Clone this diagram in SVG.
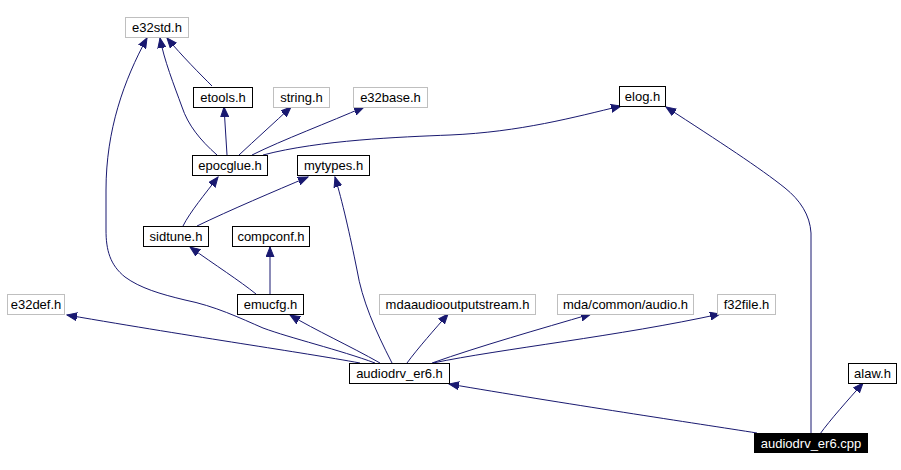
<svg xmlns="http://www.w3.org/2000/svg" width="901" height="470" viewBox="0 0 901 470">
<style>
.n rect{fill:#fff;stroke:#000;stroke-width:1}
.n.g rect{stroke:#bfbfbf}
.n text{font-family:"Liberation Sans",Arial,sans-serif;font-size:13px;fill:#000;text-anchor:middle}
.n.d rect{fill:#000;stroke:#000}
.n.d text{fill:#fff}
.e path{fill:none;stroke:#191970;stroke-width:1}
</style>
<defs>
<marker id="a" markerUnits="userSpaceOnUse" markerWidth="11" markerHeight="9" refX="10" refY="4.5" orient="auto">
<polygon points="0,0.5 10,4.5 0,8.5" fill="#191970" stroke="#191970" stroke-width="1"/>
</marker>
</defs>
<rect width="901" height="470" fill="#fff"/>
<g id="edges" class="e">
<path marker-end="url(#a)" d="M212,86 C200,74 182,56 167,38"/>
<path marker-end="url(#a)" d="M217,155 C200,140 188,125 182,107 C174,85 164,60 160,38"/>
<path marker-end="url(#a)" d="M375,363 C340,350 290,338 263,328 C240,318 215,306 185,300 C160,294 140,288 125,277 C110,265 106,250 106,230 L106,190 C106,130 124,80 147,38"/>
<path marker-end="url(#a)" d="M227,155 L224,107"/>
<path marker-end="url(#a)" d="M239,155 C255,140 275,122 291,107"/>
<path marker-end="url(#a)" d="M252,155 C282,140 330,122 364,107"/>
<path marker-end="url(#a)" d="M263,155 C320,140 400,137 450,135 C520,132 575,117 621,106"/>
<path marker-end="url(#a)" d="M183,226 C190,212 205,194 218,177"/>
<path marker-end="url(#a)" d="M197,226 C230,210 275,191 308,177"/>
<path marker-end="url(#a)" d="M392,363 C375,330 362,300 357,270 C350,235 342,200 335,177"/>
<path marker-end="url(#a)" d="M256,294 C240,281 215,265 190,247"/>
<path marker-end="url(#a)" d="M270,294 L270,247"/>
<path marker-end="url(#a)" d="M360,363 C300,352 200,338 67,315"/>
<path marker-end="url(#a)" d="M380,363 C350,346 315,330 290,315"/>
<path marker-end="url(#a)" d="M407,363 C418,348 435,329 448,314"/>
<path marker-end="url(#a)" d="M432,363 C480,346 540,329 591,314"/>
<path marker-end="url(#a)" d="M433,363 C500,349 620,336 720,314"/>
<path marker-end="url(#a)" d="M757,433 C700,424 560,403 449,384"/>
<path marker-end="url(#a)" d="M811,434 L811,233 C810,215 800,200 785,188 C760,168 720,142 666,107"/>
<path marker-end="url(#a)" d="M820,434 C830,420 848,400 863,383"/>
</g>
<g id="n_e32std" class="n g"><rect x="125.5" y="17.5" width="63" height="20"/><text x="157" y="32">e32std.h</text></g>
<g id="n_etools" class="n"><rect x="193.5" y="87.5" width="59" height="20"/><text x="223" y="102">etools.h</text></g>
<g id="n_string" class="n g"><rect x="273.5" y="87.5" width="56" height="20"/><text x="301.5" y="102">string.h</text></g>
<g id="n_e32base" class="n g"><rect x="353.5" y="87.5" width="74" height="20"/><text x="390.5" y="102">e32base.h</text></g>
<g id="n_elog" class="n"><rect x="619.5" y="86.5" width="46" height="20"/><text x="642.5" y="101">elog.h</text></g>
<g id="n_epocglue" class="n"><rect x="192.5" y="155.5" width="75" height="20"/><text x="230" y="170">epocglue.h</text></g>
<g id="n_mytypes" class="n"><rect x="297.5" y="155.5" width="72" height="20"/><text x="333.5" y="170">mytypes.h</text></g>
<g id="n_sidtune" class="n"><rect x="143.5" y="226.5" width="65" height="20"/><text x="176" y="241">sidtune.h</text></g>
<g id="n_compconf" class="n"><rect x="232.5" y="226.5" width="77" height="20"/><text x="271" y="241">compconf.h</text></g>
<g id="n_e32def" class="n g"><rect x="7.5" y="294.5" width="57" height="20"/><text x="36" y="309">e32def.h</text></g>
<g id="n_emucfg" class="n"><rect x="237.5" y="294.5" width="66" height="20"/><text x="270.5" y="309">emucfg.h</text></g>
<g id="n_mdaaudio" class="n g"><rect x="379.5" y="294.5" width="156" height="20"/><text x="457.5" y="309">mdaaudiooutputstream.h</text></g>
<g id="n_mdacommon" class="n g"><rect x="557.5" y="294.5" width="136" height="20"/><text x="625.5" y="309">mda/common/audio.h</text></g>
<g id="n_f32file" class="n g"><rect x="717.5" y="294.5" width="58" height="20"/><text x="746.5" y="309">f32file.h</text></g>
<g id="n_audiodrv_h" class="n"><rect x="349.5" y="363.5" width="100" height="20"/><text x="399.5" y="378">audiodrv_er6.h</text></g>
<g id="n_alaw" class="n"><rect x="848.5" y="363.5" width="48" height="20"/><text x="872.5" y="378">alaw.h</text></g>
<g id="n_cpp" class="n d"><rect x="754.5" y="433.5" width="113" height="19"/><text x="811" y="448">audiodrv_er6.cpp</text></g>
</svg>
